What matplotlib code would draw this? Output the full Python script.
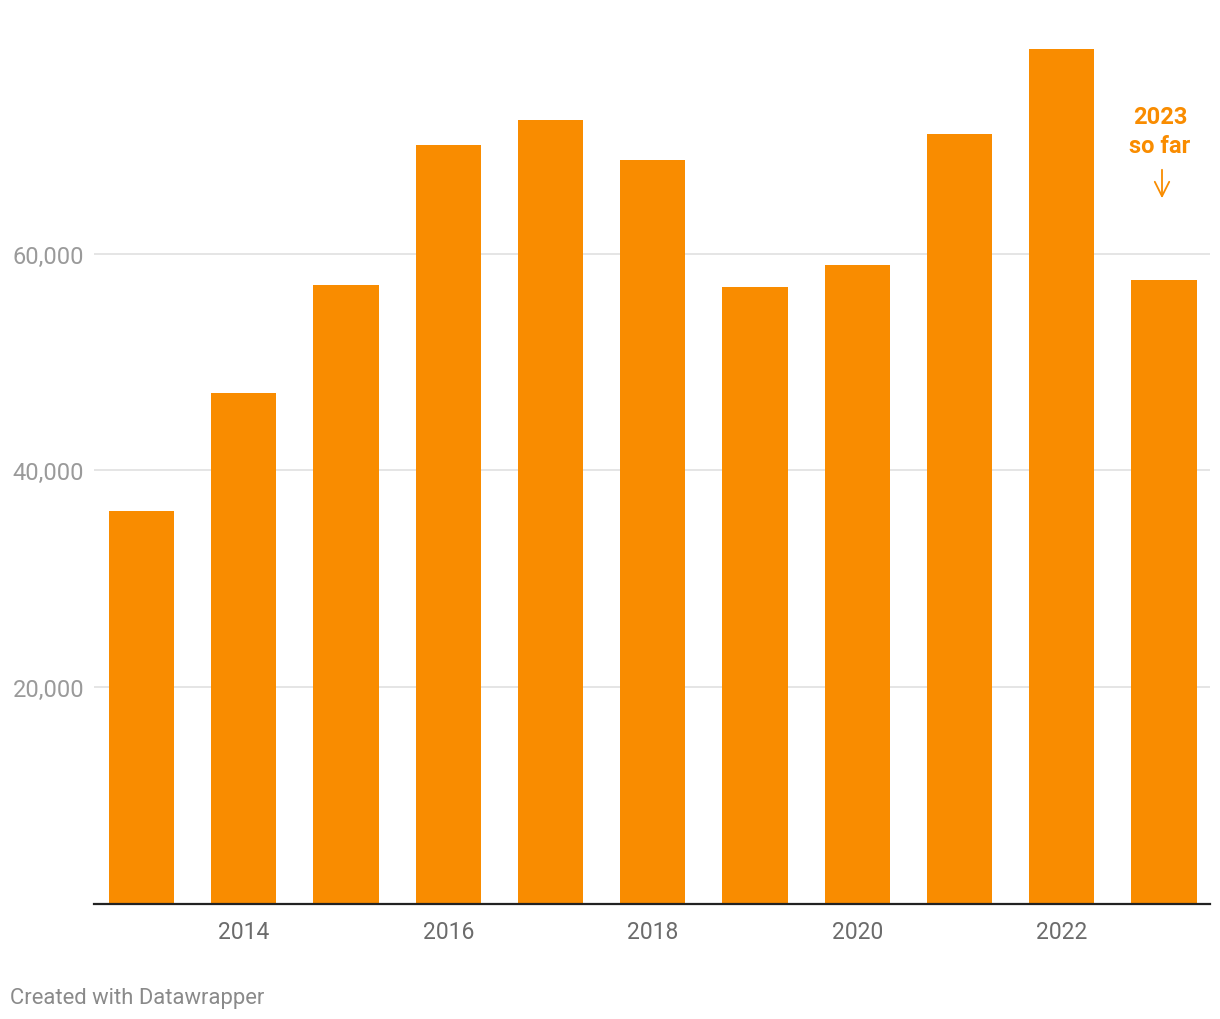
import matplotlib
matplotlib.use("Agg")
import matplotlib.pyplot as plt

years = [2013, 2014, 2015, 2016, 2017, 2018, 2019, 2020, 2021, 2022, 2023]
values = [36200, 47100, 57050, 70050, 72350, 68650, 56950, 58950, 71050, 78900, 57600]
x_tick_years = [2014, 2016, 2018, 2020, 2022]
y_ticks = [20000, 40000, 60000]
y_tick_labels = ["20,000", "40,000", "60,000"]

plt.rcParams['font.family'] = ['Roboto', 'DejaVu Sans']

W, H = 1220, 1020
base = 904.5
ax_top = 21.5
fig = plt.figure(figsize=(W / 100, H / 100), dpi=100)
ax = fig.add_axes([94 / W, (H - base) / H, (1210 - 94) / W, (base - ax_top) / H])

orange = '#f98c00'
idx = list(range(len(years)))
ax.bar(idx, values, width=0.636, color=orange, zorder=3)

ax.set_xlim(-0.4645, 10.45)
ax.set_ylim(0, (base - ax_top) / 10.833 * 1000)

for s in ['top', 'right', 'left']:
    ax.spines[s].set_visible(False)
ax.spines['bottom'].set_color('#222222')
ax.spines['bottom'].set_linewidth(1.6)
ax.spines['bottom'].set_zorder(4)

ax.set_yticks(y_ticks)
ax.set_yticklabels(y_tick_labels)
ax.tick_params(axis='y', length=0, pad=7, labelsize=17, labelcolor='#9a9a9a')
ax.yaxis.grid(True, color='#e3e3e3', linewidth=1.3, zorder=0)

ax.set_xticks([years.index(y) for y in x_tick_years])
ax.set_xticklabels([str(y) for y in x_tick_years])
ax.tick_params(axis='x', length=0, pad=12, labelsize=16.5, labelcolor='#6b6b6b')

ax.text(1160 / W, (H - 132) / H, '2023\nso far', transform=fig.transFigure,
        ha='center', va='center', fontsize=17, fontweight='bold', color=orange,
        linespacing=1.35)
ax.annotate('', xy=(1162 / W, (H - 202) / H), xycoords='figure fraction',
            xytext=(1162 / W, (H - 168) / H), textcoords='figure fraction',
            arrowprops=dict(arrowstyle='->', color=orange, lw=1.3, mutation_scale=26))

fig.text(10 / W, (H - 999) / H, 'Created with Datawrapper', ha='left', va='center',
         fontsize=15.8, color='#8a8a8a')

fig.savefig('out.png', dpi=100, facecolor='white')
